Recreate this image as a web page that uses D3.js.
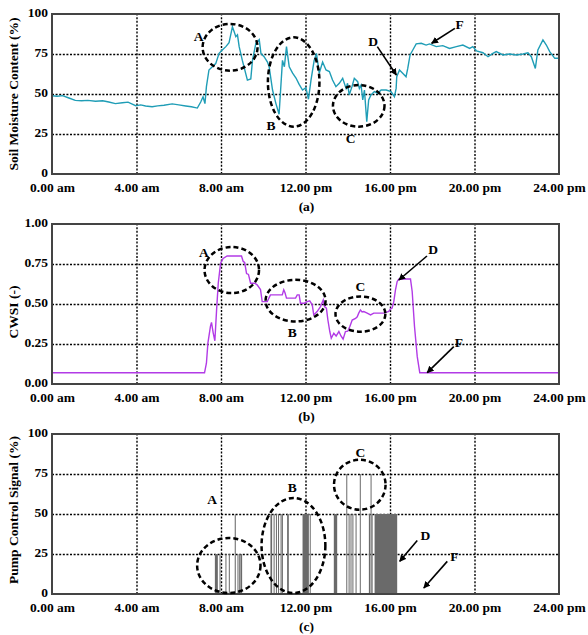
<!DOCTYPE html>
<html>
<head>
<meta charset="utf-8">
<script src="https://cdn.jsdelivr.net/npm/d3@7"></script>
<style>
  body { margin: 0; background: #fff; }
  svg { font-family: "Liberation Serif", "Times New Roman", serif; font-weight: bold; }
  .grid line { stroke: #000; stroke-width: 1.4; stroke-dasharray: 2,1.6; }
  .grid path { display: none; }
  .axis path { display: none; }
  .axis text { font-family: "Liberation Serif", "Times New Roman", serif; font-size: 13.5px; fill: #000; font-weight: bold; }
</style>
</head>
<body>
<svg id="chart" width="588" height="635"></svg>
<script>
// x ticks (hours) and their labels
var hourTicks = [0, 4, 8, 12, 16, 20, 24];
var hourLabels = ["0.00 am", "4.00 am", "8.00 am", "12.00 pm", "16.00 pm", "20.00 pm", "24.00 pm"];

// (a) soil moisture content, [hour, %]
var soilMoisture = [
  [0, 48.9], [0.25, 48.6], [0.5, 49], [0.8, 47.5], [1.1, 46], [1.4, 45.8], [1.7, 46], [2.06, 45.5],
  [2.4, 45.8], [2.69, 45], [3.0, 44], [3.33, 44.5], [3.6, 44.9], [3.8, 43.7], [3.96, 42.7], [4.2, 43.2],
  [4.43, 42.5], [4.74, 42], [5.0, 42.6], [5.3, 43], [5.69, 43.8], [6.0, 43.2], [6.33, 42.5], [6.6, 42],
  [6.88, 41.2], [7.04, 45], [7.15, 48.3], [7.24, 44], [7.31, 54.6], [7.43, 65], [7.59, 67], [7.75, 69],
  [7.91, 75.4], [8.06, 77.5], [8.23, 79.6], [8.38, 82], [8.54, 92], [8.62, 89], [8.7, 85.8], [8.78, 87],
  [8.86, 79.6], [9.01, 71], [9.25, 58.7], [9.41, 59.4], [9.49, 71], [9.65, 81.7], [9.81, 84], [9.89, 75.4],
  [10.04, 73.3], [10.2, 70], [10.28, 67], [10.44, 52.5], [10.6, 44], [10.75, 37.3], [10.91, 71], [11.0, 67],
  [11.1, 79.6], [11.23, 67], [11.39, 63], [11.55, 60], [11.7, 56], [11.86, 52.5], [12.02, 54], [12.14, 46.7],
  [12.26, 58.7], [12.41, 71], [12.52, 75.4], [12.65, 63], [12.81, 70], [12.97, 65], [13.13, 64], [13.28, 58.7],
  [13.44, 54.6], [13.6, 56.7], [13.76, 59.8], [13.92, 53.5], [13.99, 56.7], [14.07, 49.4], [14.2, 54.6], [14.31, 59.8],
  [14.47, 57.7], [14.55, 53.5], [14.63, 55.6], [14.71, 46.3], [14.79, 52.5], [14.9, 32.7], [14.99, 46.3], [15.1, 49.4],
  [15.26, 51.5], [15.42, 50.4], [15.58, 52.5], [15.82, 52.5], [16.05, 51.5], [16.21, 48.3], [16.29, 53.5], [16.32, 60.8],
  [16.45, 65], [16.6, 63], [16.76, 60.8], [16.84, 66], [16.95, 74.4], [17.08, 77.5], [17.24, 81.3], [17.48, 81.7],
  [17.71, 80.6], [17.87, 81.3], [18.19, 79.6], [18.5, 80.2], [18.82, 78.5], [19.14, 79.6], [19.45, 80.6], [19.77, 78.5],
  [19.92, 79.6], [20.09, 77], [20.4, 75.8], [20.64, 73.3], [20.87, 75.4], [21.03, 76.5], [21.35, 74.4], [21.66, 75],
  [21.98, 74.4], [22.3, 75], [22.53, 75.8], [22.69, 73.3], [22.88, 66], [23.0, 77.5], [23.24, 83.8], [23.4, 80.6],
  [23.56, 76.5], [23.8, 72.3], [24, 72.3]
];

// (b) crop water stress index, [hour, -]
var cwsi = [
  [0, 0.07], [7.22, 0.07], [7.31, 0.13], [7.38, 0.255], [7.5, 0.36], [7.55, 0.385], [7.63, 0.32], [7.71, 0.27],
  [7.79, 0.46], [7.87, 0.63], [7.98, 0.755], [8.1, 0.785], [8.29, 0.8], [8.97, 0.8], [9.05, 0.766], [9.12, 0.76],
  [9.21, 0.69], [9.3, 0.685], [9.4, 0.63], [9.6, 0.63], [9.71, 0.62], [9.87, 0.59], [9.95, 0.515], [10.19, 0.515],
  [10.34, 0.557], [10.9, 0.557], [10.97, 0.589], [11.03, 0.57], [11.1, 0.537], [11.53, 0.537], [11.61, 0.557], [11.7, 0.557],
  [11.76, 0.505], [11.95, 0.505], [12.08, 0.515], [12.2, 0.52], [12.32, 0.495], [12.39, 0.432], [12.55, 0.453], [12.71, 0.484],
  [12.84, 0.526], [12.9, 0.484], [12.99, 0.474], [13.06, 0.4], [13.15, 0.328], [13.22, 0.286], [13.34, 0.317], [13.45, 0.3],
  [13.58, 0.328], [13.68, 0.3], [13.78, 0.28], [13.89, 0.328], [14.0, 0.33], [14.1, 0.359], [14.21, 0.4], [14.37, 0.41],
  [14.45, 0.42], [14.52, 0.443], [14.6, 0.463], [14.68, 0.45], [14.76, 0.453], [14.92, 0.443], [15.08, 0.432], [15.23, 0.443],
  [15.71, 0.443], [15.94, 0.453], [16.02, 0.468], [16.1, 0.474], [16.18, 0.515], [16.26, 0.589], [16.34, 0.641], [16.42, 0.656],
  [16.97, 0.656], [17.05, 0.578], [17.16, 0.359], [17.29, 0.171], [17.41, 0.07], [24, 0.07]
];

// (c) pump control signal pulses: start hour, end hour, level %
var pumpStart = [7.71, 7.93, 8.21, 8.37, 8.65, 8.78, 8.86, 8.92, 10.34, 10.49, 10.6, 10.7, 10.82, 10.88, 11.13,
                 11.86, 12.2, 13.34, 13.93, 14.04, 14.13, 14.22, 14.37, 14.57, 15.0, 15.08, 15.13, 15.27];
var pumpEnd   = [7.85, 7.97, 8.25, 8.4, 8.7, 8.82, 8.9, 9.0, 10.42, 10.52, 10.64, 10.74, 10.85, 10.93, 11.21,
                 12.16, 12.24, 13.5, 13.97, 14.07, 14.17, 14.26, 14.4, 14.61, 15.06, 15.11, 15.16, 16.34];
var pumpLevel = [25, 25, 25, 25, 50, 25, 25, 25, 50, 50, 50, 50, 50, 50, 50,
                 50, 50, 50, 75, 50, 50, 50, 50, 75, 50, 75, 50, 50];

// annotation ellipses: panel, centre hour, centre value, radius hours, radius value
var ellipses = [
  ["a", 8.43, 79.2, 1.3, 14.6], ["a", 11.44, 57.5, 1.22, 27.9], ["a", 14.52, 42.6, 1.22, 13],
  ["b", 8.51, 0.712, 1.29, 0.144], ["b", 11.53, 0.521, 1.42, 0.13], ["b", 14.6, 0.437, 1.18, 0.11],
  ["c", 8.37, 17.8, 1.5, 17.2], ["c", 11.43, 30.3, 1.51, 29.7], ["c", 14.57, 68.3, 1.22, 15.6]
];
// letters: panel, text, hour, value
var letters = [
  ["a", "A", 6.94, 86], ["a", "B", 10.37, 30.6], ["a", "C", 14.14, 22.3], ["a", "D", 15.2, 82.7], ["a", "F", 19.3, 93.8],
  ["b", "A", 7.19, 0.822], ["b", "B", 11.37, 0.321], ["b", "C", 14.6, 0.609], ["b", "D", 18.04, 0.839], ["b", "F", 19.26, 0.259],
  ["c", "A", 7.58, 59.4], ["c", "B", 11.37, 66.9], ["c", "C", 14.6, 88.5], ["c", "D", 17.68, 37], ["c", "F", 19.05, 23.5]
];
// arrows: panel, from hour, from value, to hour, to value
var arrows = [
  ["a", 15.4, 79.6, 16.3, 61.9], ["a", 19.07, 91, 17.97, 81.7],
  ["b", 17.75, 0.8, 16.42, 0.65], ["b", 19.02, 0.234, 17.76, 0.071],
  ["c", 17.29, 33.5, 16.46, 20.4], ["c", 18.71, 20.4, 17.6, 3.75]
];

var panels = [
  {id: "a", top: 14, max: 100, ticks: [0, 25, 50, 75, 100], fmt: d3.format("d"), title: "Soil Moisture Content (%)", titleY: 0, tag: "(a)"},
  {id: "b", top: 224, max: 1, ticks: [0, 0.25, 0.5, 0.75, 1], fmt: d3.format(".2f"), title: "CWSI (-)", titleY: 8, tag: "(b)"},
  {id: "c", top: 434, max: 100, ticks: [0, 25, 50, 75, 100], fmt: d3.format("d"), title: "Pump Control Signal (%)", titleY: -4, tag: "(c)"}
];

var left = 52, width = 507, height = 160;

var svg = d3.select("#chart");

svg.append("defs").append("marker")
    .attr("id", "head")
    .attr("viewBox", "0 0 10 10")
    .attr("refX", 9).attr("refY", 5)
    .attr("markerWidth", 7).attr("markerHeight", 7)
    .attr("markerUnits", "userSpaceOnUse")
    .attr("orient", "auto")
  .append("path")
    .attr("d", "M0,0L10,5L0,10z")
    .attr("fill", "#000");

var x = d3.scaleLinear().domain([0, 24]).range([0, width]);

panels.forEach(function(p) {
  var y = d3.scaleLinear().domain([0, p.max]).range([height, 0]);
  var g = svg.append("g").attr("transform", "translate(" + left + "," + p.top + ")");

  // dotted grid
  g.append("g").attr("class", "grid")
      .attr("transform", "translate(0," + height + ")")
      .call(d3.axisBottom(x).tickValues([4, 8, 12, 16, 20]).tickSize(-height).tickFormat(""));
  g.append("g").attr("class", "grid")
      .call(d3.axisLeft(y).tickValues(p.ticks.slice(1, -1)).tickSize(-width).tickFormat(""));

  // data
  if (p.id == "a") {
    g.append("path").datum(soilMoisture)
        .attr("fill", "none").attr("stroke", "#1f9db6").attr("stroke-width", 1.4)
        .attr("d", d3.line().x(function(d) { return x(d[0]); }).y(function(d) { return y(d[1]); }));
  } else if (p.id == "b") {
    g.append("path").datum(cwsi)
        .attr("fill", "none").attr("stroke", "#b23be6").attr("stroke-width", 1.4)
        .attr("d", d3.line().x(function(d) { return x(d[0]); }).y(function(d) { return y(d[1]); }));
  } else {
    g.selectAll("rect.pump").data(pumpStart).enter().append("rect")
        .attr("class", "pump")
        .attr("x", function(d) { return x(d); })
        .attr("width", function(d, i) { return Math.max(1, x(pumpEnd[i]) - x(d)); })
        .attr("y", function(d, i) { return y(pumpLevel[i]); })
        .attr("height", function(d, i) { return height - y(pumpLevel[i]); })
        .attr("fill", "#6a6a6a");
  }

  // frame
  g.append("rect").attr("width", width).attr("height", height)
      .attr("fill", "none").attr("stroke", "#444").attr("stroke-width", 2);

  // axes
  g.append("g").attr("class", "axis")
      .attr("transform", "translate(0," + height + ")")
      .call(d3.axisBottom(x).tickValues(hourTicks).tickSize(0).tickPadding(8)
        .tickFormat(function(d, i) { return hourLabels[i]; }));
  g.append("g").attr("class", "axis")
      .call(d3.axisLeft(y).tickValues(p.ticks).tickSize(0).tickPadding(4).tickFormat(p.fmt))
    .selectAll("text").attr("dy", "0.2em");

  g.append("text")
      .attr("transform", "translate(-34," + (height / 2 + p.titleY) + ") rotate(-90)")
      .attr("text-anchor", "middle").attr("font-size", 13.5).text(p.title);

  g.append("text")
      .attr("x", x(12) + 1).attr("y", height + 37)
      .attr("text-anchor", "middle").attr("font-size", 13.5).text(p.tag);

  // annotations
  ellipses.filter(function(e) { return e[0] == p.id; }).forEach(function(e) {
    g.append("ellipse")
        .attr("cx", x(e[1])).attr("cy", y(e[2]))
        .attr("rx", x(e[3]) - x(0)).attr("ry", y(0) - y(e[4]))
        .attr("fill", "none").attr("stroke", "#000")
        .attr("stroke-width", 2.5).attr("stroke-dasharray", "5,3");
  });
  arrows.filter(function(a) { return a[0] == p.id; }).forEach(function(a) {
    g.append("line")
        .attr("x1", x(a[1])).attr("y1", y(a[2]))
        .attr("x2", x(a[3])).attr("y2", y(a[4]))
        .attr("stroke", "#000").attr("stroke-width", 1.6)
        .attr("marker-end", "url(#head)");
  });
  letters.filter(function(l) { return l[0] == p.id; }).forEach(function(l) {
    g.append("text")
        .attr("x", x(l[2])).attr("y", y(l[3])).attr("dy", "0.35em")
        .attr("text-anchor", "middle").attr("font-size", 13.5).text(l[1]);
  });
});
</script>
</body>
</html>
